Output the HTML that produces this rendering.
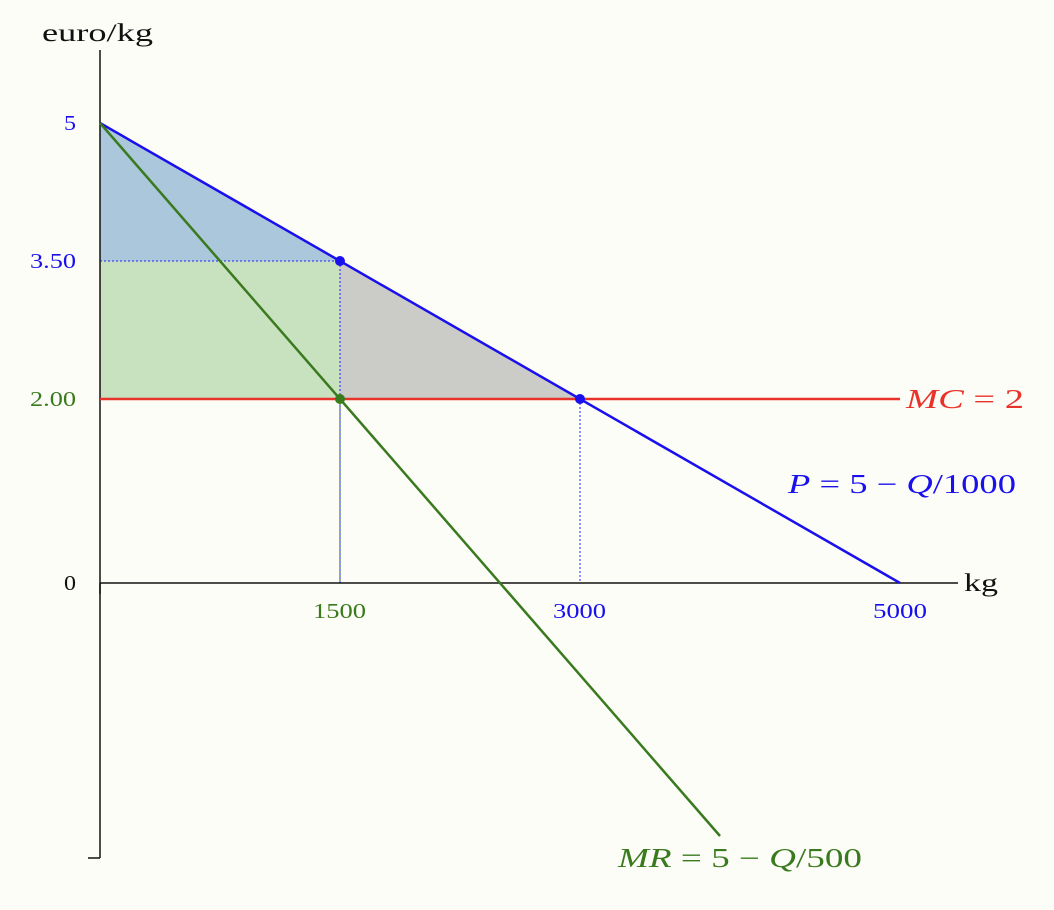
<!DOCTYPE html>
<html><head><meta charset="utf-8"><style>
html,body{margin:0;padding:0;background:#fdfdf7;}
svg{display:block;font-family:"Liberation Serif",serif;}
</style></head><body>
<svg width="1054" height="910" viewBox="0 0 1054 910">
<rect width="1054" height="910" fill="#fdfdf7"/>
<polygon points="100,123 340,261 100,261" fill="#abc7dc"/>
<rect x="100" y="261" width="240" height="138" fill="#c8e1bf"/>
<polygon points="340,261 580,399 340,399" fill="#cbcbc7"/>
<line x1="100" y1="261" x2="340" y2="261" stroke="#2222ff" stroke-width="1" stroke-dasharray="2,2"/>
<line x1="340" y1="261" x2="340" y2="583" stroke="#2222ff" stroke-width="1" stroke-dasharray="2,2"/>
<line x1="340" y1="399" x2="340" y2="583" stroke="#336622" stroke-width="1" stroke-dasharray="2,2"/>
<line x1="580" y1="399" x2="580" y2="583" stroke="#2222ff" stroke-width="1" stroke-dasharray="2,2"/>
<line x1="100" y1="50" x2="100" y2="858" stroke="#111" stroke-width="1.5"/>
<line x1="88" y1="858" x2="100" y2="858" stroke="#111" stroke-width="1.5"/>
<line x1="100" y1="583" x2="958" y2="583" stroke="#111" stroke-width="1.5"/>
<line x1="100" y1="583" x2="100" y2="594" stroke="#111" stroke-width="1.5"/>
<line x1="100" y1="399" x2="900" y2="399" stroke="#e8322a" stroke-width="2.5"/>
<line x1="100" y1="123" x2="900" y2="583" stroke="#1a10ee" stroke-width="2.5"/>
<line x1="100" y1="123" x2="720" y2="836" stroke="#3a7a1e" stroke-width="2.5"/>
<circle cx="340" cy="261" r="5" fill="#1a10ee"/>
<circle cx="580" cy="399" r="5" fill="#1a10ee"/>
<circle cx="340" cy="399" r="5" fill="#3a7a1e"/>
<text x="42" y="41" font-size="25" fill="#111" textLength="111" lengthAdjust="spacingAndGlyphs">euro/kg</text>
<text x="964" y="591" font-size="25" fill="#111" textLength="34" lengthAdjust="spacingAndGlyphs">kg</text>
<text x="64" y="130" font-size="21" fill="#1a10ee" textLength="12" lengthAdjust="spacingAndGlyphs">5</text>
<text x="30" y="268" font-size="21" fill="#1a10ee" textLength="46" lengthAdjust="spacingAndGlyphs">3.50</text>
<text x="30" y="406" font-size="21" fill="#3a7a1e" textLength="46" lengthAdjust="spacingAndGlyphs">2.00</text>
<text x="64" y="590" font-size="21" fill="#111" textLength="12" lengthAdjust="spacingAndGlyphs">0</text>
<text x="313" y="618" font-size="21" fill="#3a7a1e" textLength="53" lengthAdjust="spacingAndGlyphs">1500</text>
<text x="553" y="618" font-size="21" fill="#1a10ee" textLength="53" lengthAdjust="spacingAndGlyphs">3000</text>
<text x="873" y="618" font-size="21" fill="#1a10ee" textLength="54" lengthAdjust="spacingAndGlyphs">5000</text>
<text x="906" y="408" font-size="27" fill="#e8322a" textLength="118" lengthAdjust="spacingAndGlyphs"><tspan font-style="italic">MC</tspan> = 2</text>
<text x="788" y="493" font-size="27" fill="#1a10ee" textLength="228" lengthAdjust="spacingAndGlyphs"><tspan font-style="italic">P</tspan> = 5 − <tspan font-style="italic">Q</tspan>/1000</text>
<text x="618" y="867" font-size="27" fill="#3a7a1e" textLength="244" lengthAdjust="spacingAndGlyphs"><tspan font-style="italic">MR</tspan> = 5 − <tspan font-style="italic">Q</tspan>/500</text>
</svg>
</body></html>
